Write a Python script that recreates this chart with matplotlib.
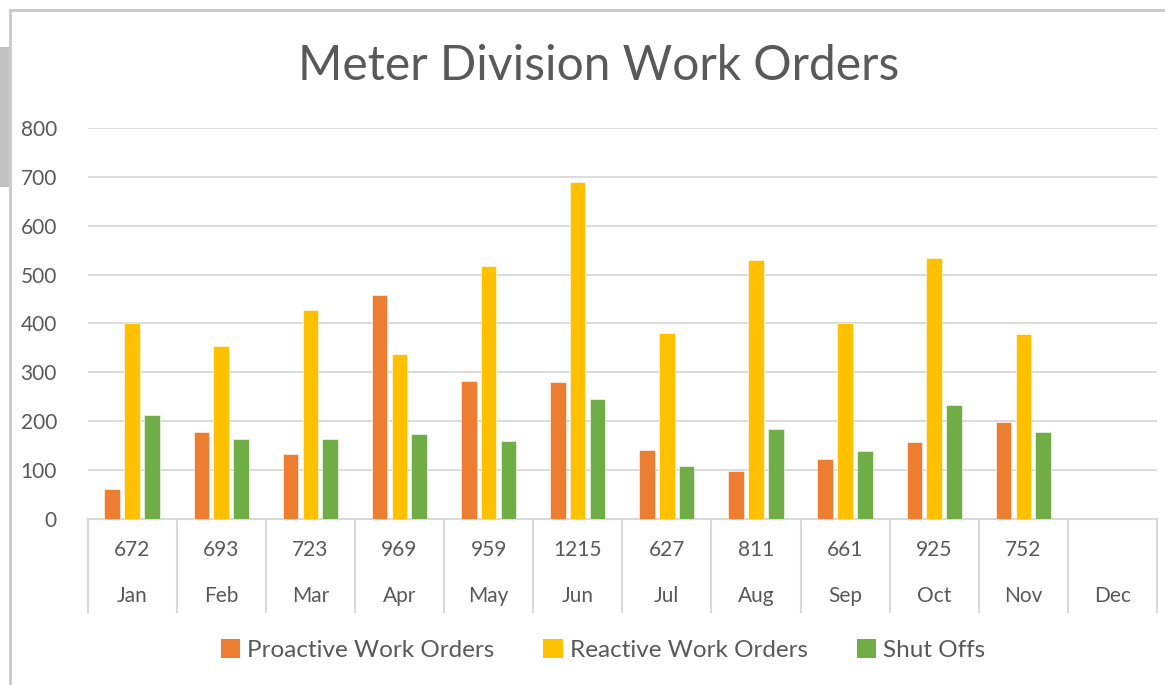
import numpy as np
import matplotlib.pyplot as plt
from matplotlib.patches import Rectangle, Patch
from matplotlib.lines import Line2D

# data
MONTHS = ["Jan", "Feb", "Mar", "Apr", "May", "Jun",
          "Jul", "Aug", "Sep", "Oct", "Nov", "Dec"]
TOTALS = ["672", "693", "723", "969", "959", "1215",
          "627", "811", "661", "925", "752", ""]
PROACTIVE = [60, 177, 132, 458, 281, 280, 140, 97, 122, 158, 197]
REACTIVE = [400, 353, 428, 338, 518, 690, 380, 530, 400, 534, 378]
SHUT_OFFS = [212, 163, 163, 173, 160, 245, 107, 184, 139, 233, 177]
SERIES = ["Proactive Work Orders", "Reactive Work Orders", "Shut Offs"]
COLORS = ["#ED7D31", "#FFC000", "#70AD47"]

TEXT = "#595959"
GRID = "#D9D9D9"
W, H = 1165, 685

plt.rcParams["font.family"] = ["Lato", "DejaVu Sans"]

fig = plt.figure(figsize=(W / 100, H / 100), dpi=100)
fig.patch.set_facecolor("white")

# outer chart frame and the grey strip at the left edge
fig.add_artist(Line2D([10 / W, 10 / W], [0, 1 - 10 / H], transform=fig.transFigure,
                      color="#C8C8C8", lw=2))
fig.add_artist(Line2D([10 / W, 1], [1 - 10 / H, 1 - 10 / H], transform=fig.transFigure,
                      color="#C8C8C8", lw=2))
fig.add_artist(Rectangle((0, 1 - 187 / H), 9 / W, 140 / H, transform=fig.transFigure,
                         facecolor="#C0C0C0", edgecolor="none"))

left, right, top, bottom = 87.5, 1157, 128, 518.7
ax = fig.add_axes([left / W, 1 - bottom / H, (right - left) / W, (bottom - top) / H])

x = np.arange(len(PROACTIVE)) + 0.5
step, bw = 0.222, 0.175
for k, vals in enumerate([PROACTIVE, REACTIVE, SHUT_OFFS]):
    ax.bar(x + (k - 1) * step, vals, width=bw, color=COLORS[k],
           edgecolor="white", linewidth=0.4, zorder=3)

ax.set_xlim(0, len(MONTHS))
ax.set_ylim(0, 800)
ax.set_yticks(range(0, 801, 100))
ax.tick_params(axis="y", length=0, pad=22, labelsize=15, labelcolor=TEXT)
ax.set_xticks([])
ax.yaxis.grid(True, color=GRID, lw=1.3, zorder=0)
for s in ["top", "right", "left"]:
    ax.spines[s].set_visible(False)
ax.spines["bottom"].set_color(GRID)
ax.spines["bottom"].set_linewidth(1.5)

# two-level category axis: totals above month names
tr = ax.get_xaxis_transform()
span = bottom - top
sep_low = -(611.7 - bottom) / span
for i in range(len(MONTHS) + 1):
    ax.plot([i, i], [0, sep_low], transform=tr, color=GRID, lw=1.5, clip_on=False)
for i, (m, t) in enumerate(zip(MONTHS, TOTALS)):
    ax.text(i + 0.5, -(550 - bottom) / span, t, transform=tr, ha="center", va="center",
            fontsize=15, color=TEXT)
    ax.text(i + 0.5, -(596 - bottom) / span, m, transform=tr, ha="center", va="center",
            fontsize=15, color=TEXT)

fig.text(599 / W, 1 - 80 / H, "Meter Division Work Orders", ha="center", va="baseline",
         fontsize=34.5, color=TEXT)

handles = [Patch(facecolor=c, edgecolor="none") for c in COLORS]
fig.legend(handles, SERIES, loc="center", bbox_to_anchor=(603 / W, 1 - 650 / H), ncol=3,
           frameon=False, fontsize=17.5, labelcolor=TEXT, handlelength=0.8,
           handleheight=0.8, handletextpad=0.3, columnspacing=2.0)

fig.savefig("out.png", dpi=100)
